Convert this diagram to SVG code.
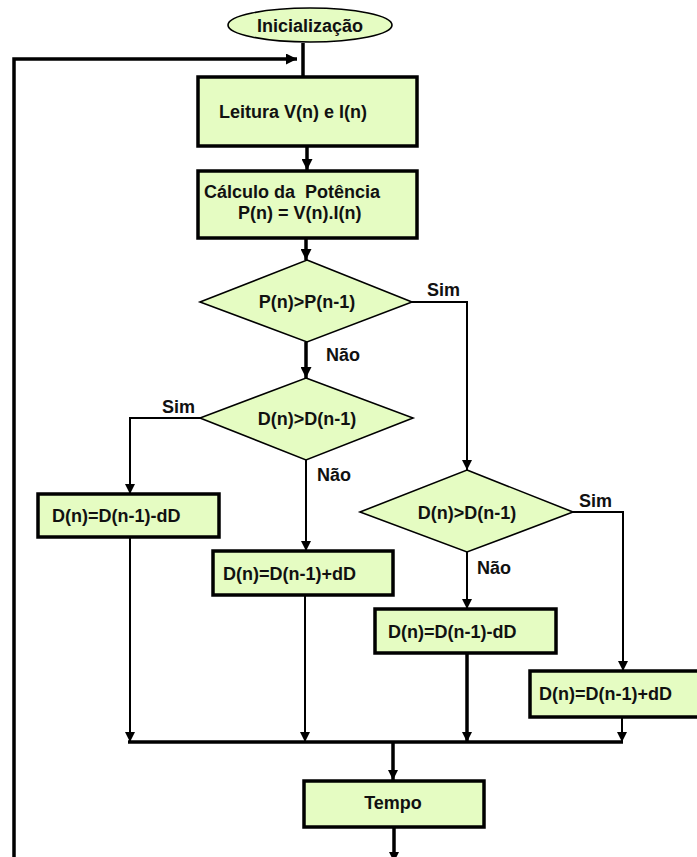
<svg xmlns="http://www.w3.org/2000/svg" width="697" height="857" viewBox="0 0 697 857">
<style>
text{font-family:"Liberation Sans",Arial,sans-serif;font-weight:bold;font-size:18px;fill:#111}
.box{fill:#e5fcc2;stroke:#000;stroke-width:3.5}
.dec{fill:#e5fcc2;stroke:#000;stroke-width:1.6}
.thin{fill:none;stroke:#000;stroke-width:2}
.thick{fill:none;stroke:#000;stroke-width:3.5}
</style>
<defs>
<marker id="ah" viewBox="0 0 10 10" refX="10" refY="5" markerWidth="10" markerHeight="10" markerUnits="userSpaceOnUse" orient="auto"><path d="M0,0 L10,5 L0,10 z" fill="#000"/></marker>
<marker id="ahb" viewBox="0 0 10 10" refX="10" refY="5" markerWidth="11" markerHeight="11" markerUnits="userSpaceOnUse" orient="auto"><path d="M0,0 L10,5 L0,10 z" fill="#000"/></marker>
</defs>
<g id="connectors">
<path class="thick" d="M303,43 V76" />
<path class="thick" d="M14,857 V59 H297" marker-end="url(#ahb)"/>
<path class="thick" d="M307,146 V170" marker-end="url(#ahb)"/>
<path class="thick" d="M306,238 V260" marker-end="url(#ahb)"/>
<path class="thick" d="M306,342 V378" marker-end="url(#ahb)"/>
<path class="thin" d="M412,302 H467 V470" marker-end="url(#ah)"/>
<path class="thin" d="M200,418 H130 V494" marker-end="url(#ah)"/>
<path class="thin" d="M306,460 V551" marker-end="url(#ah)"/>
<path class="thin" d="M573,512 H623 V671" marker-end="url(#ah)"/>
<path class="thin" d="M467,552 V609" marker-end="url(#ah)"/>
<path class="thin" d="M130,537 V742" marker-end="url(#ah)"/>
<path class="thin" d="M305,595 V742" marker-end="url(#ah)"/>
<path class="thick" d="M467,653 V742" marker-end="url(#ah)"/>
<path class="thin" d="M622,717 V742" marker-end="url(#ah)"/>
<path class="thick" d="M128,742 H623"/>
<path class="thick" d="M393,742 V780" marker-end="url(#ah)"/>
<path class="thick" d="M394,827 V857"/>
<path d="M389,852 L399,852 L394,862 z" fill="#000"/>
</g>
<g id="inicializacao">
<ellipse class="dec" cx="310" cy="25" rx="82" ry="17"/>
<text x="310" y="32" text-anchor="middle">Inicialização</text>
</g>
<g id="leitura">
<rect class="box" x="198" y="77" width="219" height="69"/>
<text x="219" y="118">Leitura V(n) e I(n)</text>
</g>
<g id="calculo">
<rect class="box" x="198" y="171" width="219" height="67"/>
<text x="204" y="198" xml:space="preserve">Cálculo da  Potência</text>
<text x="238" y="219">P(n) = V(n).I(n)</text>
</g>
<g id="dec1">
<polygon class="dec" points="307,260 412,302 307,342 200,302"/>
<text x="307" y="308" text-anchor="middle">P(n)&gt;P(n-1)</text>
<text x="427" y="296">Sim</text>
<text x="326" y="361">Não</text>
</g>
<g id="dec2">
<polygon class="dec" points="306,378 413,418 306,460 200,418"/>
<text x="307" y="425" text-anchor="middle">D(n)&gt;D(n-1)</text>
<text x="162" y="413">Sim</text>
<text x="317" y="481">Não</text>
</g>
<g id="dec3">
<polygon class="dec" points="467,470 573,512 467,552 360,512"/>
<text x="467" y="519" text-anchor="middle">D(n)&gt;D(n-1)</text>
<text x="579" y="507">Sim</text>
<text x="477" y="574">Não</text>
</g>
<g id="box3">
<rect class="box" x="38" y="494" width="181" height="43"/>
<text x="52" y="522">D(n)=D(n-1)-dD</text>
</g>
<g id="box4">
<rect class="box" x="213" y="551" width="180" height="44"/>
<text x="223" y="580">D(n)=D(n-1)+dD</text>
</g>
<g id="box5">
<rect class="box" x="375" y="609" width="181" height="44"/>
<text x="388" y="638">D(n)=D(n-1)-dD</text>
</g>
<g id="box6">
<rect class="box" x="530" y="671" width="180" height="46"/>
<text x="539" y="700">D(n)=D(n-1)+dD</text>
</g>
<g id="tempo">
<rect class="box" x="304" y="781" width="180" height="46"/>
<text x="393" y="809" text-anchor="middle">Tempo</text>
</g>
</svg>
